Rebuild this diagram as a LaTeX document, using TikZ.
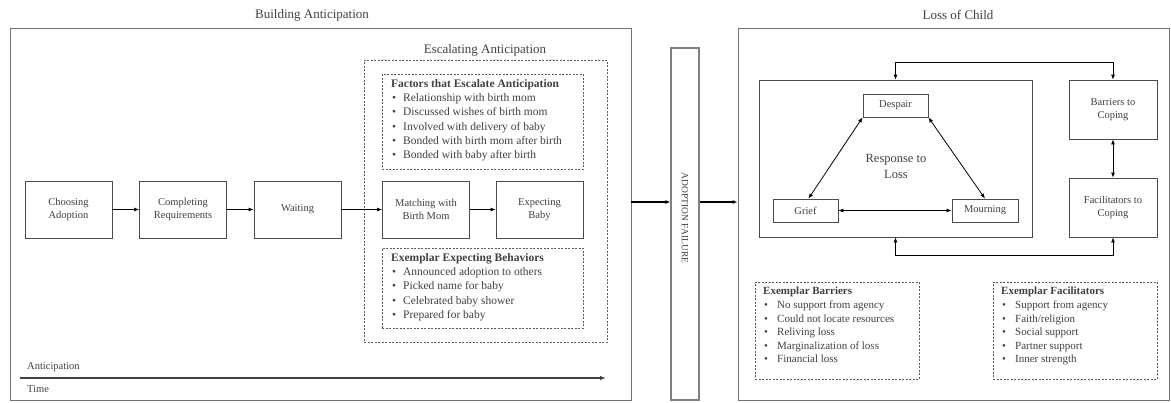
\documentclass[tikz,border=0pt]{standalone}
\usepackage{fontspec}
\setmainfont{Liberation Serif}
\usetikzlibrary{arrows.meta,calc}
\newcommand\blt{\makebox[12pt][l]{\hspace{1pt}\textbullet}}
\newcommand\bltb{\makebox[14pt][l]{\hspace{1pt}\textbullet}}
\begin{document}
\begin{tikzpicture}[x=1pt,y=-1pt,
  outer/.style={draw=black!55, line width=0.9pt, inner sep=0pt},
  proc/.style={draw=black!70, line width=0.8pt, fill=white, minimum width=87pt, minimum height=57pt, inner sep=1pt, align=center, font=\fontsize{10.5}{13}\selectfont, text=black!75},
  small/.style={draw=black!70, line width=0.8pt, fill=white, minimum width=65pt, minimum height=23pt, inner sep=1pt, align=center, font=\fontsize{10.5}{13}\selectfont, text=black!75},
  dbox/.style={draw=black!65, dash pattern=on 2pt off 1.5pt, line width=0.7pt, inner sep=0pt},
  arr/.style={-{Latex[length=5pt,width=4pt]}, line width=0.8pt},
  darr/.style={{Latex[length=5pt,width=4pt]}-{Latex[length=5pt,width=4pt]}, line width=0.8pt},
  lst/.style={anchor=north west, inner sep=0pt, align=left, font=\fontsize{11.5}{14.3}\selectfont, text=black!75},
  lstb/.style={anchor=north west, inner sep=0pt, align=left, font=\fontsize{11}{13.6}\selectfont, text=black!75},
  ttl/.style={font=\fontsize{13}{15.5}\selectfont, text=black!75},
]
\useasboundingbox (0,0) rectangle (1171,402);

% ---------- Building Anticipation ----------
\node[ttl] (bt) at (312,15) {Building Anticipation};
\node[outer, minimum width=621pt, minimum height=372pt] (building) at (320.5,214) {};
\node[ttl] (et) at (485,50) {Escalating Anticipation};
\node[dbox, minimum width=243pt, minimum height=282pt] (escal) at (485.5,201) {};
\node[dbox, minimum width=201pt, minimum height=95pt] (factors) at (482.5,121.5) {};
\node[dbox, minimum width=201pt, minimum height=80pt] (behav) at (482.5,288) {};

\node[lst] (factxt) at (391,79) {\textbf{Factors that Escalate Anticipation}\\
\blt Relationship with birth mom\\
\blt Discussed wishes of birth mom\\
\blt Involved with delivery of baby\\
\blt Bonded with birth mom after birth\\
\blt Bonded with baby after birth};

\node[lst] (behtxt) at (391,253) {\textbf{Exemplar Expecting Behaviors}\\
\blt Announced adoption to others\\
\blt Picked name for baby\\
\blt Celebrated baby shower\\
\blt Prepared for baby};

\node[proc] (p1) at (68.5,209.5) {Choosing\\Adoption};
\node[proc] (p2) at (183,209.5) {Completing\\Requirements};
\node[proc] (p3) at (297.5,209.5) {Waiting};
\node[proc] (p4) at (426,209.5) {Matching with\\Birth Mom};
\node[proc] (p5) at (539.5,209.5) {Expecting\\Baby};
\draw[arr] (p1) -- (p2);
\draw[arr] (p2) -- (p3);
\draw[arr] (p3) -- (p4);
\draw[arr] (p4) -- (p5);

\node[anchor=west, inner sep=0pt, font=\fontsize{10.5}{12}\selectfont, text=black!75] (antl) at (27,367) {Anticipation};
\node[anchor=west, inner sep=0pt, font=\fontsize{10.5}{12}\selectfont, text=black!75] (timel) at (27,389) {Time};
\coordinate (tstart) at (20,378);
\coordinate (tend) at (606,378);
\draw[-{Latex[length=6pt,width=4.5pt]}, line width=1.4pt, draw=black!75] (tstart) -- (tend);

% ---------- Adoption failure ----------
\node[draw=black!50, line width=1.2pt, minimum width=28pt, minimum height=352pt, inner sep=0pt] (fail) at (685,224) {};
\node[rotate=-90, font=\fontsize{9.5}{11}\selectfont, text=black!75, inner sep=0pt] (failtxt) at (685,218) {ADOPTION FAILURE};
\coordinate (fy) at (0,202);
\draw[arr, line width=1.1pt] (building.east |- fy) -- (fail.west |- fy);

% ---------- Loss of Child ----------
\node[ttl] (lt) at (958,15) {Loss of Child};
\node[outer, minimum width=431pt, minimum height=372pt] (loss) at (953.5,214) {};
\draw[arr, line width=1.1pt] (fail.east |- fy) -- (loss.west |- fy);

\node[draw=black!70, line width=0.8pt, minimum width=273pt, minimum height=157pt, inner sep=0pt] (resp) at (895.5,158.5) {};
\node[align=center, font=\fontsize{12.5}{16}\selectfont, text=black!75] (resptxt) at (896,166) {Response to\\Loss};
\node[small] (despair) at (895.5,105.5) {Despair};
\node[small] (grief) at (805.5,210.5) {Grief};
\node[small, minimum width=66pt] (mourn) at (985,210.5) {Mourning};
\draw[darr] (despair.south west) -- ([xshift=3pt]grief.north);
\draw[darr] (despair.south east) -- (mourn.north);
\draw[darr] (grief.east) -- (mourn.west);

\node[proc, minimum width=88pt, minimum height=59pt] (barr) at (1113,109.5) {Barriers to\\Coping};
\node[proc, minimum width=88pt, minimum height=59pt] (facil) at (1113,207.5) {Facilitators to\\Coping};
\draw[darr] (barr) -- (facil);
\draw[darr] (resp.north) -- ++(0,-17) -| (barr.north);
\draw[darr] (resp.south) -- ++(0,18) -| (facil.south);

\node[dbox, minimum width=164pt, minimum height=97pt] (exbarr) at (837,330.5) {};
\node[dbox, minimum width=164pt, minimum height=97pt] (exfac) at (1075,330.5) {};
\node[lstb] (exbtxt) at (763,287) {\textbf{Exemplar Barriers}\\
\bltb No support from agency\\
\bltb Could not locate resources\\
\bltb Reliving loss\\
\bltb Marginalization of loss\\
\bltb Financial loss};
\node[lstb] (exftxt) at (1001,287) {\textbf{Exemplar Facilitators}\\
\bltb Support from agency\\
\bltb Faith/religion\\
\bltb Social support\\
\bltb Partner support\\
\bltb Inner strength};
\end{tikzpicture}
\end{document}
